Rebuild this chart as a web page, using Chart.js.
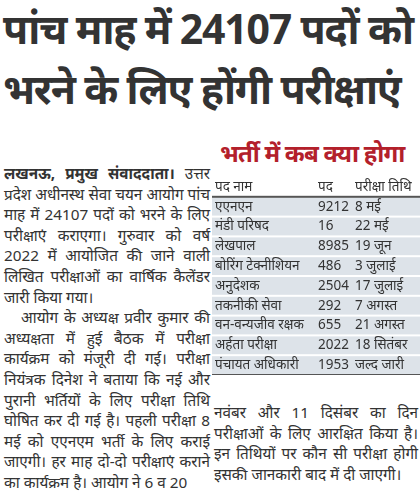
<!DOCTYPE html>
<html><head><meta charset="utf-8">
<script src="https://cdn.jsdelivr.net/npm/chart.js@4"></script>
<style>
body{margin:0;width:420px;height:502px;background:#fff;font-family:"Noto Sans","DejaVu Sans",sans-serif;color:#222;overflow:hidden;position:relative}
#head{position:absolute;left:3px;top:-2px;width:416px;font-size:41px;font-weight:bold;line-height:60px;color:#333;letter-spacing:-1.2px;white-space:nowrap}
.col{position:absolute;font-size:15.3px;line-height:20.6px;text-align:justify;color:#333}
#c1{left:4px;top:163px;width:206px}
#c2{left:214px;top:402px;width:204px}
#tt{position:absolute;left:220px;top:136px;font-size:24px;font-weight:bold;color:#b3202b;letter-spacing:-0.8px;line-height:34px}
#box{position:absolute;left:212px;top:177px;width:208px;height:198px}
</style></head><body>
<div id="head">पांच माह में 24107 पदों को<br>भरने के लिए होंगी परीक्षाएं</div>
<div class="col" id="c1"><b>लखनऊ, प्रमुख संवाददाता।</b> उत्तर प्रदेश अधीनस्थ सेवा चयन आयोग पांच माह में 24107 पदों को भरने के लिए परीक्षाएं कराएगा। गुरुवार को वर्ष 2022 में आयोजित की जाने वाली लिखित परीक्षाओं का वार्षिक कैलेंडर जारी किया गया।<br>&nbsp;&nbsp;&nbsp;आयोग के अध्यक्ष प्रवीर कुमार की अध्यक्षता में हुई बैठक में परीक्षा कार्यक्रम को मंजूरी दी गई। परीक्षा नियंत्रक दिनेश ने बताया कि नई और पुरानी भर्तियों के लिए परीक्षा तिथि घोषित कर दी गई है। पहली परीक्षा 8 मई को एएनएम भर्ती के लिए कराई जाएगी। हर माह दो-दो परीक्षाएं कराने का कार्यक्रम है। आयोग ने 6 व 20</div>
<div id="tt">भर्ती में कब क्या होगा</div>
<div id="box"><canvas id="t"></canvas></div>
<div class="col" id="c2">नवंबर और 11 दिसंबर का दिन परीक्षाओं के लिए आरक्षित किया है। इन तिथियों पर कौन सी परीक्षा होगी इसकी जानकारी बाद में दी जाएगी।</div>
<script>
const posts = ["पद नाम","एएनएन","मंडी परिषद","लेखपाल","बोरिंग टेक्नीशियन","अनुदेशक","तकनीकी सेवा","वन-वन्यजीव रक्षक","अर्हता परीक्षा","पंचायत अधिकारी"];
const vacancies = ["पद","9212","16","8985","486","2504","292","655","2022","1953"];
const dates = ["परीक्षा तिथि","8 मई","22 मई","19 जून","3 जुलाई","17 जुलाई","7 अगस्त","21 अगस्त","18 सितंबर","जल्द जारी"];

const tablePlugin = {
  id: "tablePlugin",
  beforeDraw(chart) {
    const ctx = chart.ctx, y = chart.scales.y, w = chart.width;
    const step = y.getPixelForValue(1) - y.getPixelForValue(0);
    ctx.save();
    posts.forEach((p, i) => {
      const cy = y.getPixelForValue(i);
      if (i > 0) {
        ctx.fillStyle = "#dde3e9";
        ctx.fillRect(0, cy - step / 2 + 1, w, step - 2);
      }
    });
    ctx.fillStyle = "#555";
    ctx.fillRect(0, y.getPixelForValue(0) + step / 2 - 1, w, 2);
    ctx.fillRect(0, y.getPixelForValue(posts.length - 1) + step / 2 - 1, w, 2);
    ctx.restore();
  },
  afterDraw(chart) {
    const ctx = chart.ctx, y = chart.scales.y;
    ctx.save();
    ctx.font = '13.5px "Noto Sans", sans-serif';
    ctx.fillStyle = "#333";
    ctx.textBaseline = "middle";
    posts.forEach((p, i) => {
      const cy = y.getPixelForValue(i);
      ctx.fillText(p, 3, cy);
      ctx.fillText(vacancies[i], 106, cy);
      ctx.fillText(dates[i], 143, cy);
    });
    ctx.restore();
  }
};

new Chart(document.getElementById("t"), {
  type: "bar",
  data: { labels: posts, datasets: [{ data: posts.map(() => null) }] },
  options: {
    indexAxis: "y", responsive: true, maintainAspectRatio: false, animation: false,
    layout: { padding: 0 },
    plugins: { legend: { display: false }, tooltip: { enabled: false } },
    scales: {
      x: { display: false },
      y: { display: false }
    }
  },
  plugins: [tablePlugin]
});
</script>
</body></html>
